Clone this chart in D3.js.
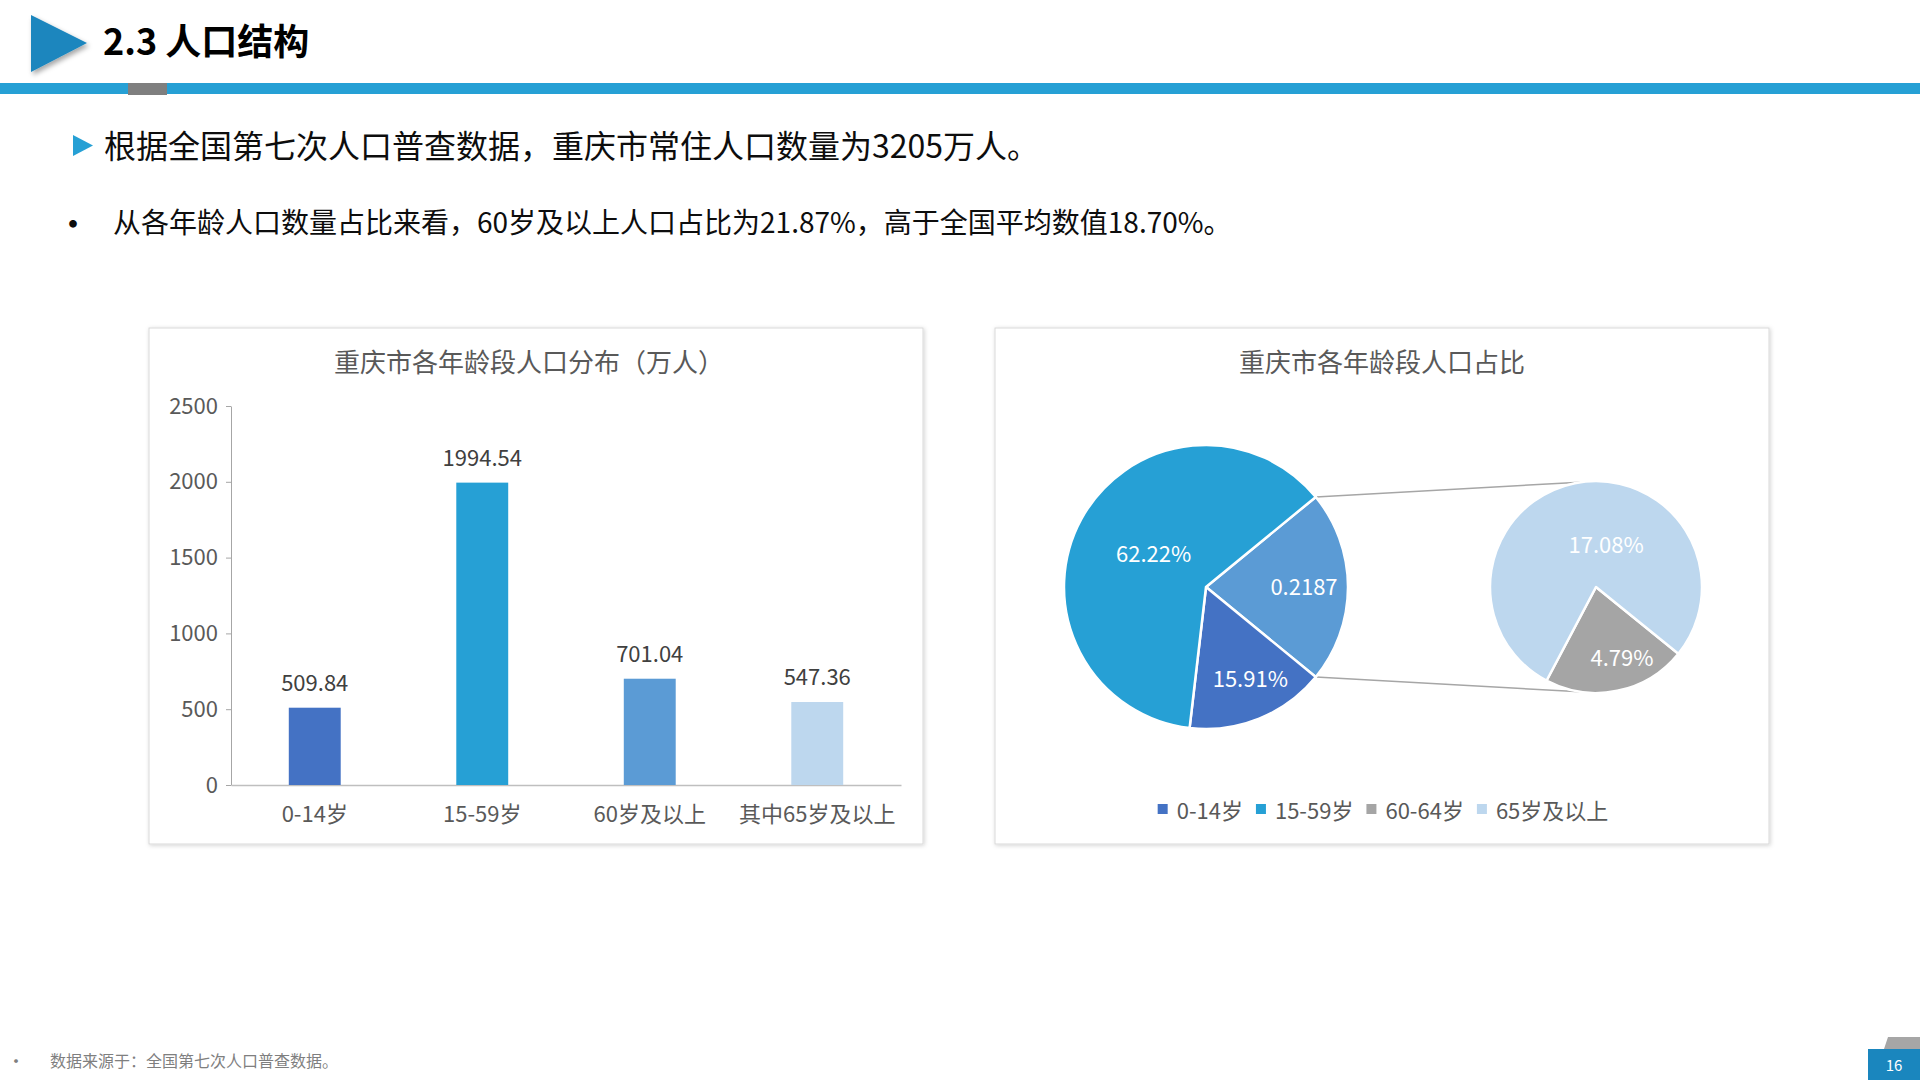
<!DOCTYPE html>
<html>
<head>
<meta charset="utf-8">
<script src="https://cdn.jsdelivr.net/npm/d3@7"></script>
<style>
  body { margin: 0; background: #fff; }
  svg { display: block; }
  text { font-family: "Noto Sans CJK SC", "Noto Sans", sans-serif; }
</style>
</head>
<body>
<div id="slide"></div>
<script>
// bar chart data
var ageGroups = ["0-14岁", "15-59岁", "60岁及以上", "其中65岁及以上"];
var population = [509.84, 1994.54, 701.04, 547.36];
var barColors = ["#4472c4", "#26a0d5", "#5b9bd5", "#bdd7ee"];
var yTicks = [0, 500, 1000, 1500, 2000, 2500];

// pie of pie data (first slice is the split-out one)
var pieGroups = ["60岁及以上", "0-14岁", "15-59岁"];
var pieShares = [0.2187, 0.1591, 0.6222];
var pieLabels = ["0.2187", "15.91%", "62.22%"];
var pieColors = ["#5b9bd5", "#4472c4", "#26a0d5"];

var subGroups = ["60-64岁", "65岁及以上"];
var subShares = [0.0479, 0.1708];
var subLabels = ["4.79%", "17.08%"];
var subColors = ["#a5a5a5", "#bdd7ee"];

var legendNames = ["0-14岁", "15-59岁", "60-64岁", "65岁及以上"];
var legendColors = ["#4472c4", "#26a0d5", "#a5a5a5", "#bdd7ee"];

function init() {
  var w = 1920, h = 1080;
  var svg = d3.select("#slide").append("svg")
      .attr("width", w)
      .attr("height", h);

  var defs = svg.append("defs");
  defs.append("filter").attr("id", "shadow")
      .attr("x", "-10%").attr("y", "-10%").attr("width", "120%").attr("height", "120%")
    .append("feDropShadow")
      .attr("dx", 1).attr("dy", 1).attr("stdDeviation", 2)
      .attr("flood-color", "#000").attr("flood-opacity", 0.18);
  defs.append("filter").attr("id", "triShadow")
      .attr("x", "-30%").attr("y", "-30%").attr("width", "160%").attr("height", "160%")
    .append("feDropShadow")
      .attr("dx", 2).attr("dy", 3).attr("stdDeviation", 2.5)
      .attr("flood-color", "#000").attr("flood-opacity", 0.35);

  // ---- header ----
  svg.append("path")
      .attr("d", "M31,15 L87,43 L31,72 Z")
      .attr("fill", "#1a86be")
      .attr("filter", "url(#triShadow)");
  svg.append("text")
      .attr("x", 103).attr("y", 55)
      .attr("font-size", 36).attr("font-weight", "bold")
      .attr("fill", "#000")
      .text("2.3 人口结构");
  svg.append("rect").attr("x", 0).attr("y", 83).attr("width", w).attr("height", 11).attr("fill", "#26a0d5");
  svg.append("rect").attr("x", 128).attr("y", 83).attr("width", 39).attr("height", 12).attr("fill", "#7f7f7f");

  svg.append("path")
      .attr("d", "M73,135 L93,145.5 L73,156 Z")
      .attr("fill", "#26a0d5");
  svg.append("text")
      .attr("x", 104).attr("y", 144)
      .attr("dominant-baseline", "central")
      .attr("font-size", 32).attr("fill", "#0d0d0d")
      .text("根据全国第七次人口普查数据，重庆市常住人口数量为3205万人。");

  svg.append("text")
      .attr("x", 73).attr("y", 222)
      .attr("text-anchor", "middle").attr("dominant-baseline", "central")
      .attr("font-size", 36).attr("fill", "#0d0d0d")
      .text("•");
  svg.append("text")
      .attr("x", 113).attr("y", 221)
      .attr("dominant-baseline", "central")
      .attr("font-size", 28).attr("fill", "#0d0d0d")
      .text("从各年龄人口数量占比来看，60岁及以上人口占比为21.87%，高于全国平均数值18.70%。");

  // ---- panels ----
  [149, 995].forEach(function(px) {
    svg.append("rect")
        .attr("x", px).attr("y", 328)
        .attr("width", 774).attr("height", 516)
        .attr("fill", "#fff")
        .attr("stroke", "#d9d9d9")
        .attr("filter", "url(#shadow)");
  });

  // ---- bar chart ----
  svg.append("text")
      .attr("x", 529).attr("y", 360)
      .attr("text-anchor", "middle").attr("dominant-baseline", "central")
      .attr("font-size", 26).attr("fill", "#595959")
      .text("重庆市各年龄段人口分布（万人）");

  var x = d3.scaleBand()
      .domain(ageGroups)
      .range([231, 901])
      .paddingInner(0.69)
      .paddingOuter(0.345);

  var y = d3.scaleLinear()
      .domain([0, 2500])
      .range([785, 406]);

  var yAxis = svg.append("g")
      .attr("transform", "translate(231,0)")
      .call(d3.axisLeft(y).tickValues(yTicks).tickFormat(d3.format("d"))
        .tickSize(5).tickPadding(8).tickSizeOuter(0));
  yAxis.select(".domain").attr("stroke", "#a6a6a6");
  yAxis.selectAll(".tick line").attr("stroke", "#a6a6a6");
  yAxis.selectAll(".tick text")
      .attr("font-size", 22).attr("fill", "#595959")
      .attr("font-family", "\"Noto Sans CJK SC\", sans-serif");

  var xAxis = svg.append("g")
      .attr("transform", "translate(0,785)")
      .call(d3.axisBottom(x).tickSize(0).tickSizeOuter(0));
  xAxis.select(".domain").attr("stroke", "#bfbfbf").attr("stroke-width", 1.5);
  xAxis.selectAll(".tick text")
      .attr("y", 27).attr("dy", null)
      .attr("dominant-baseline", "central")
      .attr("font-size", 22).attr("fill", "#595959")
      .attr("font-family", "\"Noto Sans CJK SC\", sans-serif");

  svg.selectAll("rect.bar")
      .data(population)
      .enter()
      .append("rect")
      .attr("class", "bar")
      .attr("x", function(d, i) { return x(ageGroups[i]); })
      .attr("y", function(d) { return y(d); })
      .attr("width", x.bandwidth())
      .attr("height", function(d) { return y(0) - y(d); })
      .attr("fill", function(d, i) { return barColors[i]; });

  svg.selectAll("text.val")
      .data(population)
      .enter()
      .append("text")
      .attr("class", "val")
      .attr("x", function(d, i) { return x(ageGroups[i]) + x.bandwidth() / 2; })
      .attr("y", function(d) { return y(d) - 27; })
      .attr("text-anchor", "middle").attr("dominant-baseline", "central")
      .attr("font-size", 22).attr("fill", "#404040")
      .text(function(d) { return d.toFixed(2); });

  // ---- pie of pie ----
  svg.append("text")
      .attr("x", 1382).attr("y", 360)
      .attr("text-anchor", "middle").attr("dominant-baseline", "central")
      .attr("font-size", 26).attr("fill", "#595959")
      .text("重庆市各年龄段人口占比");

  var cx = 1206, cy = 587, r = 142;
  var cx2 = 1596, cy2 = 587, r2 = 106;

  var start = Math.PI / 2 - pieShares[0] * Math.PI;
  var pie = d3.pie().sort(null)
      .startAngle(start)
      .endAngle(start + 2 * Math.PI);
  var arc = d3.arc().innerRadius(0).outerRadius(r);
  var mainArcs = pie(pieShares);

  var subStart = 129 * Math.PI / 180;
  var subPie = d3.pie().sort(null)
      .startAngle(subStart)
      .endAngle(subStart + 2 * Math.PI);
  var arc2 = d3.arc().innerRadius(0).outerRadius(r2);
  var subArcs = subPie(subShares);

  // connector lines
  var a0 = mainArcs[0].startAngle, a1 = mainArcs[0].endAngle;
  var t0 = -8.7 * Math.PI / 180, t1 = Math.PI + 8.7 * Math.PI / 180;
  var links = [
    [[cx + r * Math.sin(a0), cy - r * Math.cos(a0)], [cx2 + r2 * Math.sin(t0), cy2 - r2 * Math.cos(t0)]],
    [[cx + r * Math.sin(a1), cy - r * Math.cos(a1)], [cx2 + r2 * Math.sin(t1), cy2 - r2 * Math.cos(t1)]]
  ];
  svg.selectAll("line.link")
      .data(links)
      .enter()
      .append("line")
      .attr("class", "link")
      .attr("x1", function(d) { return d[0][0]; })
      .attr("y1", function(d) { return d[0][1]; })
      .attr("x2", function(d) { return d[1][0]; })
      .attr("y2", function(d) { return d[1][1]; })
      .attr("stroke", "#a6a6a6").attr("stroke-width", 1.5);

  var g1 = svg.append("g").attr("transform", "translate(" + cx + "," + cy + ")");
  g1.selectAll("path")
      .data(mainArcs)
      .enter()
      .append("path")
      .attr("d", arc)
      .attr("fill", function(d, i) { return pieColors[i]; })
      .attr("stroke", "#fff").attr("stroke-width", 2.5)
      .attr("stroke-linejoin", "round");

  // label nudges to sit where excel put them
  var labelPos = [0.69, 0.72, 0.46];
  var labelNudge = [[0, -2], [6, -5], [5, -4]];
  g1.selectAll("text")
      .data(mainArcs)
      .enter()
      .append("text")
      .attr("transform", function(d, i) {
        var la = d3.arc().innerRadius(r * labelPos[i]).outerRadius(r * labelPos[i]);
        var c = la.centroid(d);
        return "translate(" + (c[0] + labelNudge[i][0]) + "," + (c[1] + labelNudge[i][1]) + ")";
      })
      .attr("text-anchor", "middle").attr("dominant-baseline", "central")
      .attr("font-size", 22).attr("fill", "#fff")
      .text(function(d, i) { return pieLabels[i]; });

  var g2 = svg.append("g").attr("transform", "translate(" + cx2 + "," + cy2 + ")");
  g2.selectAll("path")
      .data(subArcs)
      .enter()
      .append("path")
      .attr("d", arc2)
      .attr("fill", function(d, i) { return subColors[i]; })
      .attr("stroke", "#fff").attr("stroke-width", 2.5)
      .attr("stroke-linejoin", "round");

  var subPos = [0.66, 0.42];
  var subNudge = [[12, 0], [19, 0]];
  g2.selectAll("text")
      .data(subArcs)
      .enter()
      .append("text")
      .attr("transform", function(d, i) {
        var la = d3.arc().innerRadius(r2 * subPos[i]).outerRadius(r2 * subPos[i]);
        var c = la.centroid(d);
        return "translate(" + (c[0] + subNudge[i][0]) + "," + (c[1] + subNudge[i][1]) + ")";
      })
      .attr("text-anchor", "middle").attr("dominant-baseline", "central")
      .attr("font-size", 22).attr("fill", "#fff")
      .text(function(d, i) { return subLabels[i]; });

  // legend, flowed and centred in the panel
  var legend = svg.append("g");
  var lx = 0;
  legendNames.forEach(function(name, i) {
    var item = legend.append("g").attr("transform", "translate(" + lx + ",0)");
    item.append("rect")
        .attr("x", 0).attr("y", -5)
        .attr("width", 10).attr("height", 10)
        .attr("fill", legendColors[i]);
    var t = item.append("text")
        .attr("x", 19).attr("y", 0)
        .attr("dominant-baseline", "central")
        .attr("font-size", 22).attr("fill", "#595959")
        .text(name);
    lx += 19 + t.node().getComputedTextLength() + 13;
  });
  lx -= 13;
  legend.attr("transform", "translate(" + (1383 - lx / 2) + ",809)");

  // ---- footer ----
  svg.append("text")
      .attr("x", 16).attr("y", 1060)
      .attr("text-anchor", "middle").attr("dominant-baseline", "central")
      .attr("font-size", 18).attr("fill", "#7f7f7f")
      .text("•");
  svg.append("text")
      .attr("x", 50).attr("y", 1060)
      .attr("dominant-baseline", "central")
      .attr("font-size", 16).attr("fill", "#7f7f7f")
      .text("数据来源于：全国第七次人口普查数据。");

  svg.append("path")
      .attr("d", "M1888,1037 L1920,1037 L1920,1049 L1884,1049 Z")
      .attr("fill", "#a6a6a6");
  svg.append("rect")
      .attr("x", 1868).attr("y", 1049)
      .attr("width", 52).attr("height", 31)
      .attr("fill", "#1a86be");
  svg.append("text")
      .attr("x", 1894).attr("y", 1064)
      .attr("text-anchor", "middle").attr("dominant-baseline", "central")
      .attr("font-size", 15).attr("fill", "#fff")
      .text("16");
}

window.onload = init;
</script>
</body>
</html>
